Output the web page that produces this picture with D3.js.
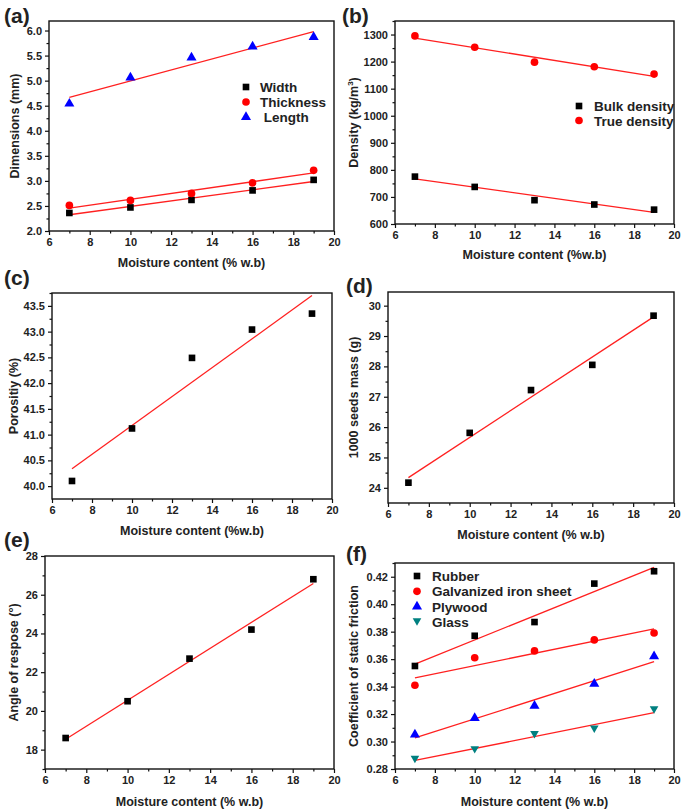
<!DOCTYPE html>
<html><head><meta charset="utf-8">
<script src="https://cdn.jsdelivr.net/npm/d3@7"></script>
<style>
html,body{margin:0;padding:0;background:#fff;}
svg text{font-family:"Liberation Sans",Arial,sans-serif;font-weight:bold;fill:#222;}
</style></head>
<body>
<svg id="chart" width="685" height="812"></svg>
<script>
// ---------- data ----------
const moisture = [7, 10, 13, 16, 19];
const fitX = [7, 19];

// (a) dimensions (mm)
const widthMM = [2.36, 2.47, 2.62, 2.81, 3.02];
const thicknessMM = [2.51, 2.61, 2.75, 2.96, 3.21];
const lengthMM = [4.54, 5.06, 5.46, 5.68, 5.87];
const widthFit = [2.324, 2.988];
const thicknessFit = [2.458, 3.158];
const lengthFit = [4.666, 5.978];

// (b) density (kg/m3)
const bulkDensity = [775, 737, 688, 672, 653];
const trueDensity = [1295, 1253, 1198, 1181, 1154];
const bulkFit = [766.8, 643.2];
const trueFit = [1287, 1145.4];

// (c) porosity (%)
const porosity = [40.10, 41.12, 42.49, 43.04, 43.35];
const porosityFit = [40.336, 43.70];

// (d) 1000 seeds mass (g)
const seedMass = [24.17, 25.81, 27.22, 28.05, 29.67];
const seedMassFit = [24.336, 29.632];

// (e) angle of repose
const repose = [18.6, 20.5, 22.7, 24.2, 26.8];
const reposeFit = [18.54, 26.58];

// (f) coefficient of static friction
const rubber = [0.355, 0.377, 0.387, 0.415, 0.424];
const galvanized = [0.341, 0.361, 0.366, 0.374, 0.379];
const plywood = [0.305, 0.317, 0.326, 0.342, 0.362];
const glass = [0.287, 0.294, 0.305, 0.309, 0.323];
const rubberFit = [0.3564, 0.4268];
const galvanizedFit = [0.3464, 0.3820];
const plywoodFit = [0.3026, 0.3582];
const glassFit = [0.2862, 0.3210];

// tick labels
const xTicks = [6, 8, 10, 12, 14, 16, 18, 20];

// ---------- drawing ----------
const svg = d3.select("#chart");
const RED = "#ff2020";

const markerPath = {
  square: d3.symbol().type(d3.symbolSquare).size(44)(),
  circle: d3.symbol().type(d3.symbolCircle).size(46)(),
  triUp: d3.symbol().type(d3.symbolTriangle).size(44)(),
  triDown: "M0,3.8L-4.3,-3.6L4.3,-3.6Z"
};

function panel(cfg) {
  const g = svg.append("g");
  const x = d3.scaleLinear().domain([6, 20]).range([cfg.l, cfg.r]);
  const y = d3.scaleLinear().domain(cfg.yDomain).range([cfg.b, cfg.t]);

  // axes
  const xAxis = d3.axisBottom(x).tickValues(xTicks).tickSize(4).tickPadding(3).tickFormat(d3.format("d"));
  const xMinor = d3.axisBottom(x).tickValues(d3.range(7, 20, 2)).tickSize(2.5).tickFormat("");
  const yAxis = d3.axisLeft(y).tickValues(cfg.yTicks).tickSize(4).tickPadding(3).tickFormat(d3.format(cfg.yFmt));
  const yMinor = d3.axisLeft(y).tickValues(cfg.yMinor).tickSize(2.5).tickFormat("");

  [[xAxis, "x"], [xMinor, "x"], [yAxis, "y"], [yMinor, "y"]].forEach(([ax, k]) => {
    const a = g.append("g")
      .attr("transform", k === "x" ? `translate(0,${cfg.b})` : `translate(${cfg.l},0)`)
      .call(ax);
    a.select(".domain").remove();
    a.selectAll("line").attr("stroke", "#111").attr("stroke-width", 1.2);
    a.selectAll("text").attr("font-size", 11).attr("fill", "#222")
      .style("font-family", "Liberation Sans, Arial, sans-serif").style("font-weight", "bold");
  });

  // frame
  g.append("rect").attr("x", cfg.l).attr("y", cfg.t)
    .attr("width", cfg.r - cfg.l).attr("height", cfg.b - cfg.t)
    .attr("fill", "none").attr("stroke", "#111").attr("stroke-width", 1.4);

  // fit lines
  const line = d3.line().x((d, i) => x(fitX[i])).y(d => y(d));
  cfg.series.forEach(s => {
    g.append("path").datum(s.fit).attr("d", line)
      .attr("fill", "none").attr("stroke", RED).attr("stroke-width", 1.3);
  });
  // markers
  cfg.series.forEach(s => {
    g.selectAll(null).data(s.values).join("path")
      .attr("d", markerPath[s.shape])
      .attr("transform", (d, i) => `translate(${x(moisture[i])},${y(d)})`)
      .attr("fill", s.color);
  });

  // legend
  if (cfg.legend) {
    cfg.series.forEach((s, i) => {
      const ly = cfg.legend.y + i * cfg.legend.dy;
      g.append("path").attr("d", markerPath[s.shape])
        .attr("transform", `translate(${cfg.legend.x},${ly})`).attr("fill", s.color);
      g.append("text").attr("x", cfg.legend.x + cfg.legend.tx).attr("y", ly + 5)
        .attr("font-size", 13.5).attr("xml:space", "preserve").text(s.name);
    });
  }

  // axis titles
  g.append("text").attr("x", (cfg.l + cfg.r) / 2).attr("y", cfg.xTitleY)
    .attr("text-anchor", "middle").attr("font-size", 12.5).text(cfg.xTitle);
  const yt = g.append("text")
    .attr("transform", `translate(${cfg.yTitleX},${(cfg.t + cfg.b) / 2}) rotate(-90)`)
    .attr("text-anchor", "middle").attr("font-size", 12.5);
  if (cfg.yTitleSup) {
    yt.append("tspan").text(cfg.yTitle[0]);
    yt.append("tspan").attr("dy", -5).attr("font-size", 8).text(cfg.yTitleSup);
    yt.append("tspan").attr("dy", 5).text(cfg.yTitle[1]);
  } else {
    yt.text(cfg.yTitle);
  }
  // panel letter
  svg.append("text").attr("x", cfg.letterX).attr("y", cfg.letterY)
    .attr("font-size", 21).attr("fill", "#111").text(cfg.letter);
}

panel({
  letter: "(a)", letterX: 4, letterY: 23,
  l: 49, r: 334, t: 21, b: 231, yDomain: [2.0, 6.19],
  yTicks: d3.range(2.0, 6.01, 0.5), yMinor: d3.range(2.25, 6.2, 0.5), yFmt: ".1f",
  xTitle: "Moisture content (% w.b)", xTitleY: 267,
  yTitle: "Dimensions (mm)", yTitleX: 19,
  legend: { x: 246, y: 87, dy: 15, tx: 14 },
  series: [
    { name: "Width", values: widthMM, fit: widthFit, shape: "square", color: "#000" },
    { name: "Thickness", values: thicknessMM, fit: thicknessFit, shape: "circle", color: "#ff0000" },
    { name: " Length", values: lengthMM, fit: lengthFit, shape: "triUp", color: "#0000ff" }
  ]
});

panel({
  letter: "(b)", letterX: 342, letterY: 23,
  l: 395, r: 674, t: 21, b: 224, yDomain: [600, 1350],
  yTicks: d3.range(600, 1301, 100), yMinor: d3.range(650, 1351, 100), yFmt: "d",
  xTitle: "Moisture content (%w.b)", xTitleY: 259,
  yTitle: ["Density (kg/m", ")"], yTitleSup: "3", yTitleX: 358,
  legend: { x: 579, y: 106, dy: 14.5, tx: 15 },
  series: [
    { name: "Bulk density", values: bulkDensity, fit: bulkFit, shape: "square", color: "#000" },
    { name: "True density", values: trueDensity, fit: trueFit, shape: "circle", color: "#ff0000" }
  ]
});

panel({
  letter: "(c)", letterX: 4, letterY: 285,
  l: 52, r: 332, t: 293, b: 499, yDomain: [39.75, 43.75],
  yTicks: d3.range(40.0, 43.51, 0.5), yMinor: d3.range(40.25, 43.76, 0.5), yFmt: ".1f",
  xTitle: "Moisture content (%w.b)", xTitleY: 535,
  yTitle: "Porositiy (%)", yTitleX: 18,
  series: [
    { name: "Porosity", values: porosity, fit: porosityFit, shape: "square", color: "#000" }
  ]
});

panel({
  letter: "(d)", letterX: 346, letterY: 293,
  l: 388, r: 674, t: 292, b: 503, yDomain: [23.5, 30.45],
  yTicks: d3.range(24, 30.01, 1), yMinor: d3.range(24.5, 30.5, 1), yFmt: "d",
  xTitle: "Moisture content (% w.b)", xTitleY: 539,
  yTitle: "1000 seeds mass (g)", yTitleX: 358,
  series: [
    { name: "Seed mass", values: seedMass, fit: seedMassFit, shape: "square", color: "#000" }
  ]
});

panel({
  letter: "(e)", letterX: 4, letterY: 547,
  l: 45, r: 334, t: 556, b: 769, yDomain: [17, 28],
  yTicks: d3.range(18, 28.01, 2), yMinor: d3.range(17, 28, 2), yFmt: "d",
  xTitle: "Moisture content (% w.b)", xTitleY: 806,
  yTitle: "Angle of respose (°)", yTitleX: 18,
  series: [
    { name: "Angle", values: repose, fit: reposeFit, shape: "square", color: "#000" }
  ]
});

panel({
  letter: "(f)", letterX: 346, letterY: 561,
  l: 395, r: 674, t: 563, b: 769, yDomain: [0.28, 0.43],
  yTicks: d3.range(0.28, 0.4201, 0.02), yMinor: d3.range(0.29, 0.431, 0.02), yFmt: ".2f",
  xTitle: "Moisture content (% w.b)", xTitleY: 806,
  yTitle: "Coefficient of static friction", yTitleX: 358,
  legend: { x: 417, y: 576, dy: 15.3, tx: 15 },
  series: [
    { name: "Rubber", values: rubber, fit: rubberFit, shape: "square", color: "#000" },
    { name: "Galvanized iron sheet", values: galvanized, fit: galvanizedFit, shape: "circle", color: "#ff0000" },
    { name: "Plywood", values: plywood, fit: plywoodFit, shape: "triUp", color: "#0000ff" },
    { name: "Glass", values: glass, fit: glassFit, shape: "triDown", color: "#008080" }
  ]
});
</script>
</body></html>
